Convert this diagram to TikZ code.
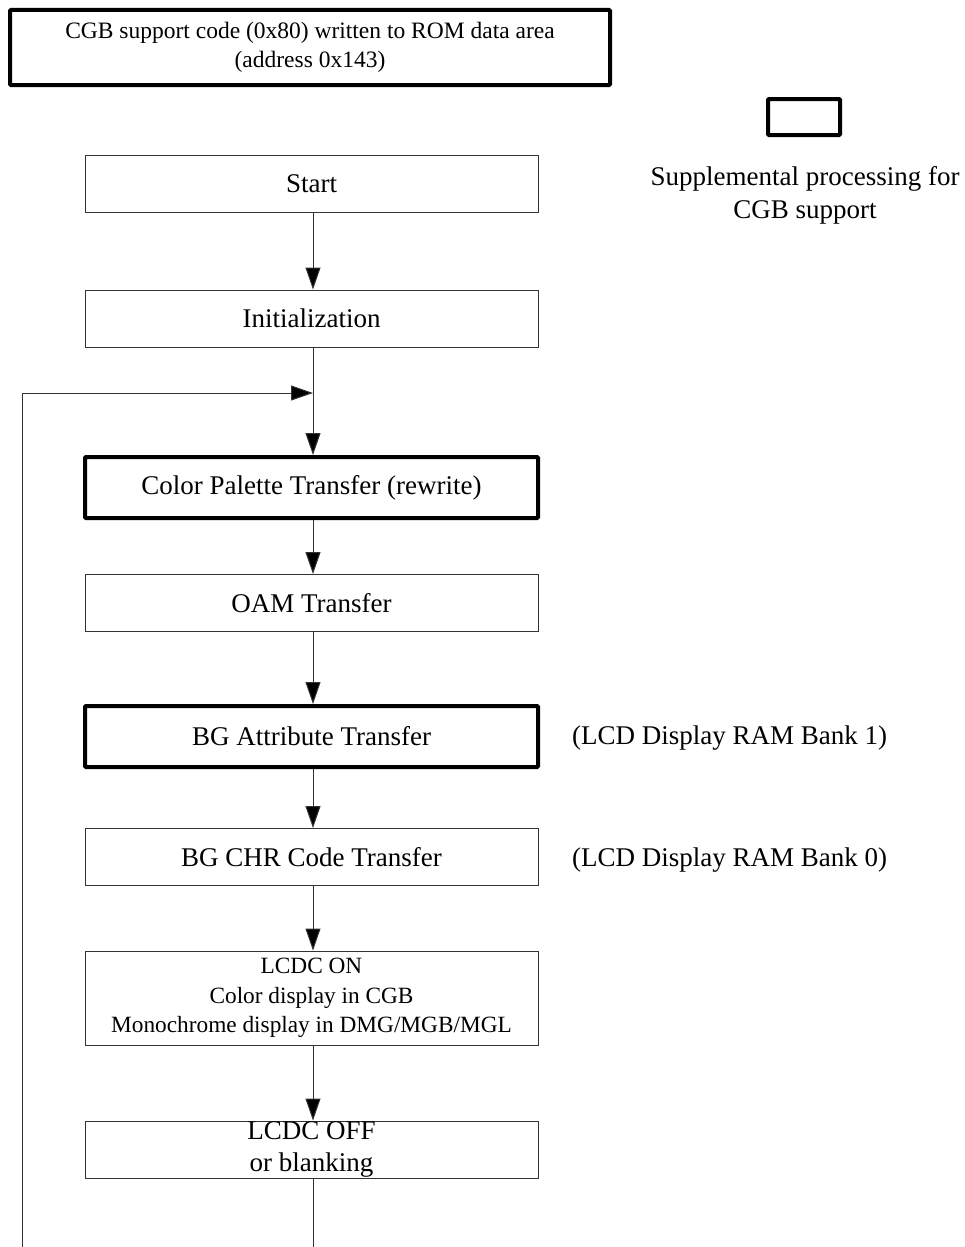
\documentclass[tikz,border=0pt]{standalone}
\usepackage{fontspec}
\setmainfont{Liberation Serif}
\usetikzlibrary{arrows.meta}
\begin{document}
\begin{tikzpicture}[x=1pt,y=-1pt,
  box/.style={draw=black!80, line width=1pt, rectangle, minimum width=453pt, minimum height=57pt, inner sep=0pt, align=center, font=\fontsize{27}{32}\selectfont},
  thickbox/.style={box, draw=black, line width=4pt, rounded corners=1pt, minimum height=61pt},
  arr/.style={draw=black!80, line width=1pt, -{Triangle[length=22pt,width=15pt,fill=black]}},
  line/.style={draw=black!80, line width=1pt},
  lbl/.style={font=\fontsize{27}{33}\selectfont, inner sep=0pt}
]
\useasboundingbox (0,0) rectangle (965,1247);

\node[thickbox, minimum width=600pt, minimum height=75pt, font=\fontsize{23.5}{29}\selectfont] (top) at (310,47.5) {CGB support code (0x80) written to ROM data area\\(address 0x143)};

\node[draw=black, line width=4pt, rounded corners=1pt, minimum width=72pt, minimum height=36pt, inner sep=0pt] (leg) at (804,117) {};
\node[lbl, align=center, font=\fontsize{27}{33}\selectfont] (legtxt) at (805,195) {Supplemental processing for\\CGB support};

\node[box] (start) at (311.5,184) {Start};
\node[box] (init) at (311.5,318.5) {Initialization};
\node[thickbox] (cp) at (311.5,487.5) {Color Palette Transfer (rewrite)};
\node[box] (oam) at (311.5,603) {OAM Transfer};
\node[thickbox] (bga) at (311.5,736.5) {BG Attribute Transfer};
\node[box] (bgc) at (311.5,857) {BG CHR Code Transfer};
\node[box, minimum height=94pt, font=\fontsize{23.3}{29.5}\selectfont] (on) at (311.5,998) {LCDC ON\\Color display in CGB\\Monochrome display in DMG/MGB/MGL};
\node[box, font=\fontsize{27}{32}\selectfont] (off) at (311.5,1149.5) {\raisebox{5pt}{LCDC OFF}\\\raisebox{5pt}{or blanking}};

\node[lbl, anchor=west] (b1) at (572,738) {(LCD Display RAM Bank 1)};
\node[lbl, anchor=west] (b0) at (572,860) {(LCD Display RAM Bank 0)};

\coordinate (join) at (313,393);
\coordinate (loopbot) at (22,1247);
\coordinate (bot) at (313,1247);

\draw[arr] (start.south -| join) -- (init.north -| join);
\draw[arr] (init.south -| join) -- (cp.north -| join);
\draw[arr] (cp.south -| join) -- (oam.north -| join);
\draw[arr] (oam.south -| join) -- (bga.north -| join);
\draw[arr] (bga.south -| join) -- (bgc.north -| join);
\draw[arr] (bgc.south -| join) -- (on.north -| join);
\draw[arr] (on.south -| join) -- (off.north -| join);
\draw[line] (off.south -| join) -- (bot);
\draw[arr] (loopbot) |- (join);
\end{tikzpicture}
\end{document}
